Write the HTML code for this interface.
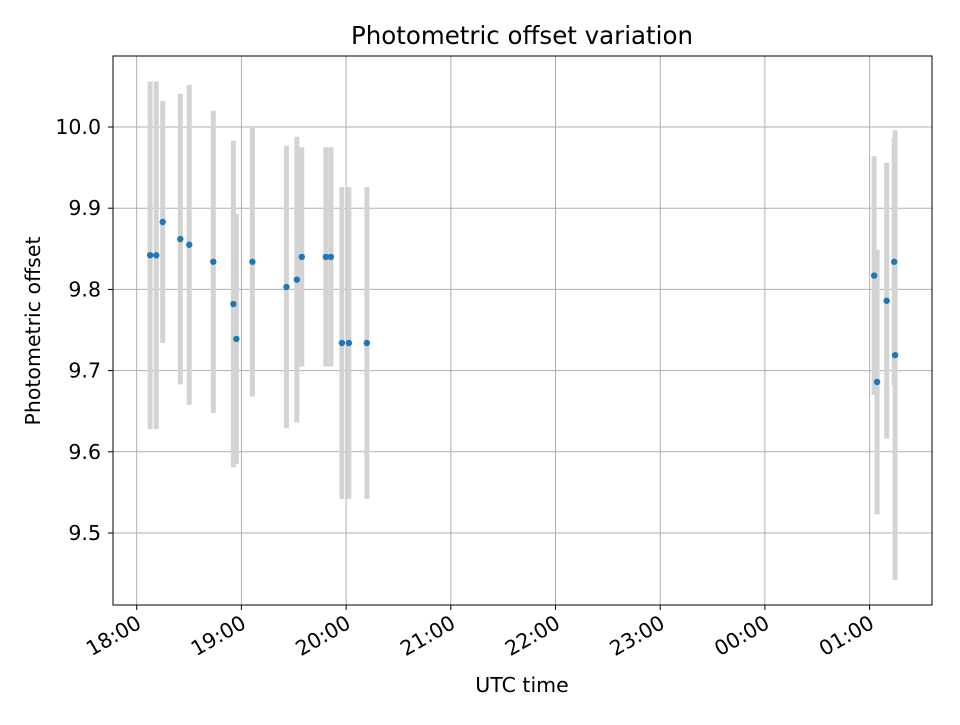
<!DOCTYPE html>
<html><head><meta charset="utf-8"><style>
body{margin:0;background:#fff;}
svg text{font-family:"DejaVu Sans","Liberation Sans",sans-serif;fill:#000;}
</style></head><body>
<svg id="chart" width="960" height="720">
<rect width="960" height="720" fill="#fff"/>
<g id="grid"></g><g id="errs"></g><g id="pts"></g><g id="axes"></g>
<text x="522" y="44" text-anchor="middle" font-size="24.5">Photometric offset variation</text>
<text x="522" y="692" text-anchor="middle" font-size="20.5">UTC time</text>
<text transform="translate(40,331) rotate(-90)" text-anchor="middle" font-size="20.5">Photometric offset</text>
</svg>
<script>
// minutes after 18:00 UTC
const times=[7.7,11.2,14.9,25.0,30.1,43.9,55.4,57.1,66.3,85.8,91.8,94.6,108.4,111.3,117.6,121.6,131.9,422.6,424.3,429.8,434.1,434.6];
const offsets=[9.842,9.842,9.883,9.862,9.855,9.834,9.782,9.739,9.834,9.803,9.812,9.840,9.840,9.840,9.734,9.734,9.734,9.817,9.686,9.786,9.834,9.719];
const errors=[0.214,0.214,0.149,0.179,0.197,0.186,0.201,0.154,0.166,0.174,0.176,0.135,0.135,0.135,0.192,0.192,0.192,0.147,0.163,0.170,0.152,0.277];
const yTicks=[9.5,9.6,9.7,9.8,9.9,10.0];
const xTickLabels=["18:00","19:00","20:00","21:00","22:00","23:00","00:00","01:00"];
const L=113,R=932,T=56,B=605;
const X=m=>136.7+m*104.7/60;
const Y=v=>127+(10-v)*812;
const NS="http://www.w3.org/2000/svg";
function mk(tag,parent,attrs){const e=document.createElementNS(NS,tag);for(const k in attrs)e.setAttribute(k,attrs[k]);document.getElementById(parent).appendChild(e);return e;}
yTicks.forEach(v=>{
  const g=mk('line','grid',{x1:L,x2:R,y1:Y(v),y2:Y(v),stroke:'#b0b0b0','stroke-width':1});
  
  
  const t=mk('line','axes',{x1:L-5,x2:L,y1:Y(v),y2:Y(v),stroke:'#000'});
  
  
  const tx=mk('text','axes',{x:L-12,y:Y(v)+7,'text-anchor':'end','font-size':20.5});
  tx.textContent=v.toFixed(1);
  
  
});
xTickLabels.forEach((s,i)=>{
  const x=X(i*60);
  const g=mk('line','grid',{x1:x,x2:x,y1:T,y2:B,stroke:'#b0b0b0','stroke-width':1});
  
  
  const t=mk('line','axes',{x1:x,x2:x,y1:B,y2:B+5,stroke:'#000'});
  
  
  const tx=mk('text','axes',{'text-anchor':'end','font-size':20.5,transform:`translate(${x+6},${B+22}) rotate(-30)`});
  tx.textContent=s;
  
  
});
times.forEach((m,i)=>{
  const x=X(m);
  const e=mk('line','errs',{x1:x,x2:x,y1:Y(offsets[i]+errors[i]),y2:Y(offsets[i]-errors[i]),stroke:'#d3d3d3','stroke-width':5});
  
  
  const c=mk('circle','pts',{cx:x,cy:Y(offsets[i]),r:3.2,fill:'#1f77b4'});
  
  
});
const f=mk('rect','axes',{x:L,y:T,width:R-L,height:B-T,fill:'none',stroke:'#000','stroke-width':1});


</script>
</body></html>
